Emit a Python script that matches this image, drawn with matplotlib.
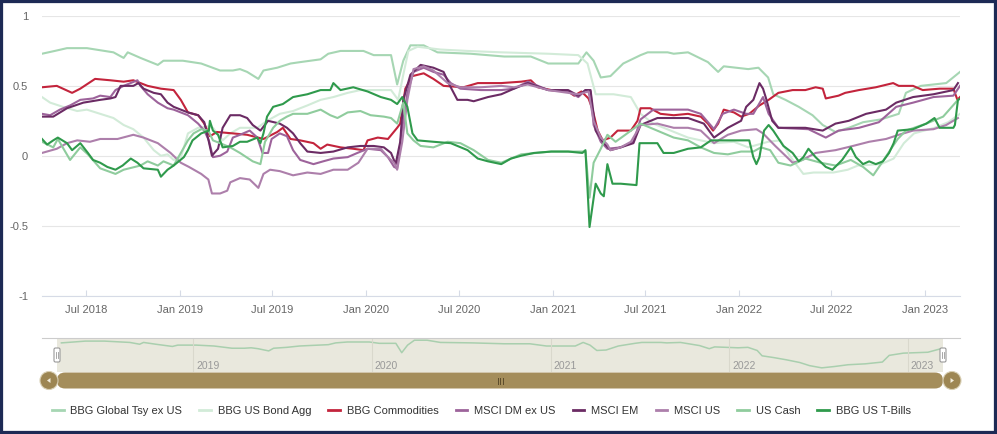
import matplotlib
matplotlib.use('Agg')
import matplotlib.pyplot as plt
import matplotlib.dates as mdates
import matplotlib.transforms as mtransforms
from matplotlib.lines import Line2D
from matplotlib.patches import FancyBboxPatch, Circle, Rectangle, Polygon
from matplotlib.ticker import FuncFormatter
import pandas as pd

plt.rcParams['font.family'] = ['Liberation Sans', 'DejaVu Sans']
plt.rcParams['axes.unicode_minus'] = False

# ---- data (rolling correlations) ----
gtsy_dates = ['2018-04-06', '2018-05-01', '2018-05-25', '2018-07-03', '2018-08-24', '2018-09-13', '2018-09-21',
              '2018-10-16', '2018-11-19', '2018-11-30', '2019-01-07', '2019-02-12', '2019-03-21', '2019-04-15',
              '2019-04-29', '2019-05-13', '2019-06-04', '2019-06-14', '2019-07-11', '2019-08-06', '2019-08-25',
              '2019-10-04', '2019-10-19', '2019-11-12', '2019-12-27', '2020-01-16', '2020-02-19', '2020-03-02',
              '2020-03-14', '2020-03-28', '2020-04-23', '2020-05-20', '2020-07-24', '2020-09-28', '2020-11-19',
              '2020-12-23', '2021-02-20', '2021-03-08', '2021-03-22', '2021-04-05', '2021-04-24', '2021-05-19',
              '2021-06-22', '2021-07-06', '2021-08-14', '2021-08-26', '2021-09-23', '2021-11-01', '2021-11-21',
              '2021-12-02', '2022-01-19', '2022-02-08', '2022-02-27', '2022-03-09', '2022-04-02', '2022-04-28',
              '2022-05-25', '2022-06-14', '2022-07-09', '2022-08-04', '2022-09-01', '2022-10-06', '2022-11-10',
              '2022-11-24', '2022-12-23', '2023-02-11', '2023-03-10']
gtsy_vals = [0.73, 0.75, 0.77, 0.77, 0.74, 0.70, 0.74, 0.70, 0.65, 0.68, 0.68, 0.66, 0.61, 0.61,
             0.62, 0.60, 0.55, 0.61, 0.63, 0.66, 0.67, 0.69, 0.73, 0.75, 0.75, 0.72, 0.72, 0.51,
             0.68, 0.79, 0.79, 0.74, 0.73, 0.71, 0.71, 0.66, 0.66, 0.74, 0.68, 0.56, 0.57, 0.66,
             0.72, 0.74, 0.74, 0.73, 0.74, 0.67, 0.60, 0.64, 0.62, 0.63, 0.56, 0.44, 0.40, 0.35,
             0.29, 0.22, 0.17, 0.20, 0.24, 0.26, 0.30, 0.45, 0.50, 0.52, 0.60]

agg_dates = ['2018-04-06', '2018-04-22', '2018-05-17', '2018-06-14', '2018-07-03', '2018-07-29', '2018-08-24',
             '2018-09-13', '2018-10-02', '2018-10-22', '2018-11-11', '2018-11-25', '2018-12-08', '2018-12-20',
             '2019-01-03', '2019-01-09', '2019-01-17', '2019-02-06', '2019-02-26', '2019-03-07', '2019-03-26',
             '2019-04-10', '2019-04-29', '2019-06-02', '2019-06-21', '2019-07-16', '2019-08-11', '2019-09-08',
             '2019-10-04', '2019-10-29', '2019-11-26', '2019-12-21', '2020-02-19', '2020-03-04', '2020-03-14',
             '2020-03-24', '2020-04-11', '2020-05-26', '2020-07-18', '2020-09-22', '2020-12-23', '2021-02-20',
             '2021-03-10', '2021-03-26', '2021-04-30', '2021-06-03', '2021-06-22', '2021-07-17', '2021-08-20',
             '2021-09-23', '2021-10-18', '2021-11-13', '2021-12-22', '2022-01-19', '2022-02-27', '2022-03-23',
             '2022-04-12', '2022-05-07', '2022-05-27', '2022-07-05', '2022-08-02', '2022-08-22', '2022-10-06',
             '2022-10-31', '2022-11-20', '2022-12-10', '2023-01-19', '2023-02-15', '2023-03-10']
agg_vals = [0.42, 0.38, 0.35, 0.32, 0.33, 0.30, 0.27, 0.22, 0.19, 0.13, 0.04, 0.00, 0.01, -0.03,
            -0.01, 0.06, 0.16, 0.20, 0.21, 0.20, 0.11, 0.16, 0.20, 0.20, 0.25, 0.30, 0.32, 0.36,
            0.40, 0.42, 0.45, 0.47, 0.47, 0.40, 0.58, 0.75, 0.78, 0.76, 0.75, 0.74, 0.73, 0.72,
            0.66, 0.44, 0.44, 0.42, 0.30, 0.23, 0.18, 0.13, 0.11, 0.09, 0.10, 0.06, 0.10, 0.11,
            -0.01, -0.13, -0.12, -0.12, -0.10, -0.07, -0.06, -0.02, 0.09, 0.16, 0.20, 0.24, 0.30]

cmd_dates = ['2018-04-06', '2018-05-05', '2018-06-04', '2018-06-20', '2018-07-19', '2018-08-18', '2018-09-13',
             '2018-10-02', '2018-10-30', '2018-11-25', '2018-12-20', '2019-01-03', '2019-01-17', '2019-02-06',
             '2019-02-18', '2019-03-01', '2019-03-15', '2019-04-15', '2019-05-13', '2019-06-14', '2019-07-11',
             '2019-07-22', '2019-08-06', '2019-08-25', '2019-09-20', '2019-10-04', '2019-10-17', '2019-11-12',
             '2019-12-07', '2019-12-27', '2020-01-04', '2020-01-24', '2020-02-13', '2020-03-02', '2020-03-08',
             '2020-03-18', '2020-04-01', '2020-04-23', '2020-05-12', '2020-06-01', '2020-07-10', '2020-08-07',
             '2020-09-22', '2020-10-31', '2020-11-19', '2020-12-03', '2020-12-29', '2021-01-31', '2021-02-12',
             '2021-02-26', '2021-03-12', '2021-03-20', '2021-03-30', '2021-04-09', '2021-04-24', '2021-05-08',
             '2021-06-03', '2021-06-16', '2021-06-22', '2021-07-11', '2021-07-31', '2021-08-26', '2021-09-23',
             '2021-10-18', '2021-11-01', '2021-11-11', '2021-11-21', '2021-12-02', '2021-12-22', '2022-01-05',
             '2022-01-21', '2022-02-10', '2022-02-28', '2022-03-19', '2022-04-16', '2022-05-11', '2022-05-31',
             '2022-06-14', '2022-06-20', '2022-07-15', '2022-07-28', '2022-08-24', '2022-09-26', '2022-10-30',
             '2022-11-10', '2022-12-08', '2022-12-27', '2023-01-29', '2023-02-25', '2023-03-05', '2023-03-10']
cmd_vals = [0.49, 0.50, 0.45, 0.48, 0.55, 0.54, 0.53, 0.54, 0.50, 0.48, 0.47, 0.40, 0.31, 0.29,
            0.23, 0.14, 0.17, 0.16, 0.15, 0.12, 0.17, 0.20, 0.12, 0.11, 0.09, 0.05, 0.08, 0.06,
            0.05, 0.04, 0.11, 0.13, 0.12, 0.20, 0.23, 0.48, 0.57, 0.59, 0.55, 0.50, 0.49, 0.52,
            0.52, 0.53, 0.54, 0.49, 0.47, 0.46, 0.43, 0.46, 0.41, 0.33, 0.18, 0.11, 0.13, 0.18,
            0.18, 0.25, 0.34, 0.34, 0.30, 0.29, 0.30, 0.28, 0.23, 0.18, 0.23, 0.33, 0.31, 0.28,
            0.30, 0.36, 0.40, 0.45, 0.47, 0.47, 0.49, 0.48, 0.41, 0.43, 0.45, 0.47, 0.49, 0.52,
            0.50, 0.50, 0.47, 0.48, 0.48, 0.40, 0.42]

dm_dates = ['2018-04-06', '2018-04-22', '2018-05-11', '2018-05-31', '2018-06-20', '2018-07-15', '2018-07-29',
            '2018-08-18', '2018-08-28', '2018-09-13', '2018-10-10', '2018-10-16', '2018-10-30', '2018-11-19',
            '2018-12-08', '2018-12-20', '2019-01-17', '2019-02-06', '2019-02-18', '2019-02-27', '2019-03-07',
            '2019-03-21', '2019-04-04', '2019-04-15', '2019-04-29', '2019-05-18', '2019-06-02', '2019-06-12',
            '2019-06-23', '2019-06-30', '2019-07-16', '2019-07-30', '2019-08-11', '2019-08-25', '2019-09-20',
            '2019-10-09', '2019-10-29', '2019-11-26', '2019-12-15', '2020-01-04', '2020-01-30', '2020-02-13',
            '2020-02-25', '2020-03-02', '2020-03-12', '2020-03-22', '2020-04-03', '2020-04-23', '2020-05-12',
            '2020-06-01', '2020-06-15', '2020-07-04', '2020-08-13', '2020-09-22', '2020-10-17', '2020-11-13',
            '2020-12-03', '2020-12-23', '2021-01-31', '2021-02-20', '2021-03-06', '2021-03-16', '2021-03-22',
            '2021-04-05', '2021-04-18', '2021-05-14', '2021-06-08', '2021-06-22', '2021-07-17', '2021-09-23',
            '2021-10-18', '2021-11-13', '2021-11-30', '2021-12-22', '2022-01-15', '2022-01-29', '2022-02-17',
            '2022-02-28', '2022-03-19', '2022-05-17', '2022-06-20', '2022-07-15', '2022-08-24', '2022-10-02',
            '2022-11-05', '2022-12-08', '2023-01-17', '2023-02-25', '2023-03-10']
dm_vals = [0.30, 0.29, 0.33, 0.36, 0.40, 0.41, 0.43, 0.42, 0.47, 0.50, 0.54, 0.50, 0.44, 0.38,
           0.34, 0.33, 0.29, 0.23, 0.18, 0.11, -0.01, 0.00, 0.03, 0.13, 0.15, 0.18, 0.13, 0.02,
           0.02, 0.12, 0.16, 0.14, 0.04, -0.03, -0.06, -0.04, -0.02, -0.01, 0.02, 0.05, 0.04, -0.01,
           -0.08, -0.09, 0.20, 0.45, 0.60, 0.63, 0.60, 0.58, 0.52, 0.48, 0.47, 0.47, 0.48, 0.53,
           0.50, 0.47, 0.46, 0.42, 0.47, 0.46, 0.22, 0.10, 0.05, 0.06, 0.10, 0.26, 0.33, 0.33,
           0.30, 0.19, 0.30, 0.33, 0.30, 0.30, 0.42, 0.30, 0.20, 0.19, 0.13, 0.18, 0.20, 0.24,
           0.35, 0.38, 0.42, 0.43, 0.50]

em_dates = ['2018-04-06', '2018-04-28', '2018-05-25', '2018-06-26', '2018-07-29', '2018-08-18', '2018-08-28',
            '2018-09-07', '2018-10-02', '2018-10-12', '2018-10-22', '2018-11-11', '2018-11-25', '2018-12-08',
            '2018-12-20', '2019-01-17', '2019-02-06', '2019-02-18', '2019-02-27', '2019-03-05', '2019-03-17',
            '2019-03-26', '2019-04-10', '2019-04-29', '2019-05-13', '2019-05-24', '2019-06-08', '2019-06-23',
            '2019-07-16', '2019-07-30', '2019-08-11', '2019-08-25', '2019-09-08', '2019-10-04', '2019-10-29',
            '2019-11-26', '2019-12-21', '2020-01-16', '2020-02-05', '2020-02-19', '2020-02-28', '2020-03-08',
            '2020-03-14', '2020-03-28', '2020-04-17', '2020-05-12', '2020-06-01', '2020-06-15', '2020-06-28',
            '2020-07-18', '2020-07-30', '2020-08-27', '2020-09-22', '2020-10-17', '2020-11-13', '2020-12-23',
            '2021-01-31', '2021-02-20', '2021-03-06', '2021-03-16', '2021-03-26', '2021-04-09', '2021-04-24',
            '2021-05-14', '2021-06-08', '2021-06-22', '2021-07-25', '2021-09-23', '2021-10-24', '2021-11-13',
            '2021-12-10', '2022-01-05', '2022-01-15', '2022-01-29', '2022-02-10', '2022-02-17', '2022-02-23',
            '2022-03-07', '2022-03-19', '2022-05-11', '2022-06-14', '2022-07-09', '2022-08-04', '2022-09-07',
            '2022-10-16', '2022-11-05', '2022-12-08', '2023-01-17', '2023-02-25', '2023-03-06']
em_vals = [0.28, 0.28, 0.34, 0.38, 0.40, 0.41, 0.42, 0.50, 0.50, 0.52, 0.48, 0.45, 0.44, 0.38,
           0.35, 0.31, 0.29, 0.24, 0.10, 0.00, 0.05, 0.20, 0.29, 0.29, 0.27, 0.22, 0.18, 0.25,
           0.23, 0.20, 0.16, 0.09, 0.03, 0.02, 0.03, 0.06, 0.07, 0.07, 0.06, 0.02, -0.06, 0.10,
           0.40, 0.58, 0.65, 0.63, 0.60, 0.49, 0.40, 0.40, 0.39, 0.42, 0.44, 0.48, 0.52, 0.47,
           0.47, 0.43, 0.47, 0.47, 0.18, 0.10, 0.04, 0.06, 0.09, 0.22, 0.27, 0.27, 0.23, 0.13,
           0.20, 0.25, 0.35, 0.40, 0.52, 0.48, 0.41, 0.25, 0.20, 0.20, 0.18, 0.23, 0.25, 0.30,
           0.33, 0.38, 0.42, 0.44, 0.47, 0.52]

us_dates = ['2018-04-06', '2018-05-05', '2018-05-25', '2018-06-14', '2018-07-09', '2018-07-29', '2018-09-01',
            '2018-10-02', '2018-10-22', '2018-11-19', '2018-12-14', '2019-01-03', '2019-01-19', '2019-02-12',
            '2019-02-26', '2019-03-05', '2019-03-21', '2019-04-04', '2019-04-10', '2019-04-29', '2019-05-18',
            '2019-06-04', '2019-06-14', '2019-06-27', '2019-07-16', '2019-08-11', '2019-09-08', '2019-10-04',
            '2019-10-29', '2019-11-26', '2019-12-17', '2020-01-04', '2020-01-30', '2020-02-13', '2020-02-25',
            '2020-03-02', '2020-03-12', '2020-03-22', '2020-04-03', '2020-04-23', '2020-05-12', '2020-06-09',
            '2020-07-04', '2020-08-13', '2020-09-22', '2020-10-17', '2020-11-13', '2020-12-03', '2020-12-23',
            '2021-01-31', '2021-02-20', '2021-03-12', '2021-03-22', '2021-04-05', '2021-04-18', '2021-04-24',
            '2021-05-14', '2021-06-03', '2021-06-16', '2021-06-22', '2021-07-25', '2021-08-26', '2021-09-23',
            '2021-10-18', '2021-11-13', '2021-12-10', '2022-01-05', '2022-02-04', '2022-02-17', '2022-03-13',
            '2022-04-02', '2022-04-16', '2022-05-05', '2022-05-31', '2022-07-09', '2022-08-12', '2022-09-13',
            '2022-10-16', '2022-11-10', '2022-12-08', '2023-01-17', '2023-02-11', '2023-03-06']
us_vals = [0.02, 0.05, 0.09, 0.11, 0.10, 0.12, 0.12, 0.15, 0.13, 0.09, 0.02, -0.05, -0.08, -0.13,
           -0.17, -0.27, -0.27, -0.25, -0.19, -0.16, -0.17, -0.23, -0.13, -0.10, -0.11, -0.14, -0.12, -0.13,
           -0.10, -0.10, -0.05, 0.05, 0.05, -0.01, -0.05, -0.10, 0.10, 0.40, 0.62, 0.64, 0.61, 0.52,
           0.49, 0.49, 0.50, 0.49, 0.51, 0.49, 0.47, 0.45, 0.44, 0.46, 0.25, 0.13, 0.08, 0.04,
           0.06, 0.10, 0.18, 0.22, 0.23, 0.20, 0.20, 0.18, 0.09, 0.15, 0.18, 0.19, 0.16, 0.07,
           0.00, -0.05, -0.03, 0.02, 0.04, 0.07, 0.10, 0.12, 0.15, 0.18, 0.19, 0.22, 0.27]

cash_dates = ['2018-04-06', '2018-04-28', '2018-05-07', '2018-05-31', '2018-06-20', '2018-07-05', '2018-07-29',
              '2018-08-28', '2018-09-13', '2018-10-16', '2018-10-30', '2018-11-19', '2018-11-30', '2018-12-20',
              '2019-01-03', '2019-01-17', '2019-01-28', '2019-02-12', '2019-02-26', '2019-03-07', '2019-03-21',
              '2019-04-10', '2019-04-29', '2019-05-24', '2019-06-08', '2019-06-17', '2019-07-03', '2019-07-16',
              '2019-07-30', '2019-08-11', '2019-09-08', '2019-10-04', '2019-10-23', '2019-11-06', '2019-11-26',
              '2019-12-21', '2020-01-10', '2020-02-05', '2020-02-19', '2020-03-02', '2020-03-14', '2020-03-22',
              '2020-04-03', '2020-04-17', '2020-05-12', '2020-06-09', '2020-07-04', '2020-07-30', '2020-08-27',
              '2020-09-22', '2020-10-31', '2020-12-29', '2021-02-16', '2021-03-06', '2021-03-14', '2021-03-22',
              '2021-04-05', '2021-04-18', '2021-05-04', '2021-05-23', '2021-06-22', '2021-07-31', '2021-08-26',
              '2021-09-23', '2021-10-18', '2021-11-13', '2021-12-10', '2022-01-05', '2022-01-29', '2022-02-13',
              '2022-03-03', '2022-03-19', '2022-04-12', '2022-05-11', '2022-06-10', '2022-07-09', '2022-08-08',
              '2022-09-01', '2022-09-21', '2022-10-06', '2022-10-26', '2022-11-08', '2022-11-24', '2023-01-03',
              '2023-02-05', '2023-03-06']
cash_vals = [0.10, 0.06, 0.12, -0.03, 0.06, 0.01, -0.09, -0.13, -0.10, -0.07, -0.04, -0.07, -0.04, -0.07,
             0.02, 0.11, 0.16, 0.19, 0.18, 0.11, 0.09, 0.06, 0.02, -0.04, -0.06, 0.10, 0.20, 0.25,
             0.28, 0.30, 0.30, 0.33, 0.29, 0.27, 0.31, 0.32, 0.29, 0.28, 0.27, 0.23, 0.38, 0.16,
             0.11, 0.07, 0.06, 0.10, 0.09, 0.04, -0.03, -0.05, 0.01, 0.03, 0.03, 0.03, -0.30, -0.05,
             0.05, 0.15, 0.10, 0.15, 0.23, 0.17, 0.13, 0.11, 0.06, 0.02, 0.01, 0.03, 0.03, 0.06,
             0.04, -0.05, -0.07, -0.02, -0.05, -0.07, -0.03, -0.08, -0.14, -0.06, 0.05, 0.12, 0.18, 0.23,
             0.28, 0.40]

tbill_dates = ['2018-04-06', '2018-04-16', '2018-04-28', '2018-05-07', '2018-05-25', '2018-06-04', '2018-06-20',
               '2018-07-05', '2018-07-15', '2018-07-29', '2018-08-12', '2018-08-28', '2018-09-11', '2018-09-27',
               '2018-10-10', '2018-10-22', '2018-11-19', '2018-11-25', '2018-12-08', '2018-12-20', '2019-01-09',
               '2019-01-17', '2019-01-26', '2019-02-12', '2019-02-27', '2019-03-01', '2019-03-07', '2019-03-17',
               '2019-03-26', '2019-04-15', '2019-04-29', '2019-05-13', '2019-06-02', '2019-06-08', '2019-06-14',
               '2019-06-21', '2019-07-03', '2019-07-22', '2019-08-11', '2019-09-08', '2019-10-04', '2019-10-23',
               '2019-10-29', '2019-11-12', '2019-12-07', '2020-01-04', '2020-01-30', '2020-02-19', '2020-03-02',
               '2020-03-12', '2020-03-22', '2020-04-01', '2020-04-11', '2020-05-12', '2020-06-15', '2020-07-18',
               '2020-08-07', '2020-08-27', '2020-09-22', '2020-10-11', '2020-10-31', '2020-11-25', '2020-12-29',
               '2021-01-31', '2021-02-28', '2021-03-06', '2021-03-14', '2021-03-26', '2021-04-05', '2021-04-11',
               '2021-04-18', '2021-04-28', '2021-05-14', '2021-06-14', '2021-06-20', '2021-07-25', '2021-08-06',
               '2021-08-26', '2021-09-23', '2021-10-18', '2021-11-07', '2022-01-21', '2022-01-29', '2022-02-04',
               '2022-02-10', '2022-02-19', '2022-02-28', '2022-03-09', '2022-03-29', '2022-04-16', '2022-04-28',
               '2022-05-07', '2022-05-17', '2022-05-31', '2022-06-20', '2022-07-03', '2022-07-22', '2022-08-08',
               '2022-08-18', '2022-09-01', '2022-09-13', '2022-09-26', '2022-10-10', '2022-10-22', '2022-10-31',
               '2022-11-08', '2022-12-08', '2023-01-03', '2023-01-19', '2023-01-29', '2023-02-25', '2023-02-28',
               '2023-03-06', '2023-03-12']
tbill_vals = [0.12, 0.08, 0.11, 0.13, 0.09, 0.04, 0.09, 0.02, -0.03, -0.05, -0.08, -0.10, -0.07, -0.02,
              -0.05, -0.09, -0.10, -0.15, -0.10, -0.07, -0.01, 0.04, 0.11, 0.16, 0.18, 0.25, 0.18, 0.15,
              0.06, 0.07, 0.10, 0.10, 0.13, 0.09, 0.16, 0.28, 0.35, 0.37, 0.42, 0.44, 0.47, 0.47,
              0.52, 0.47, 0.49, 0.46, 0.42, 0.40, 0.37, 0.42, 0.35, 0.16, 0.11, 0.10, 0.09, 0.04,
              -0.02, -0.04, -0.06, -0.02, 0.00, 0.02, 0.03, 0.03, 0.02, 0.04, -0.51, -0.20, -0.27, -0.29,
              -0.06, -0.20, -0.20, -0.21, 0.09, 0.09, 0.02, 0.02, 0.05, 0.06, 0.11, 0.11, -0.01, -0.06,
              -0.01, 0.18, 0.22, 0.18, 0.07, 0.02, -0.04, -0.01, 0.05, -0.01, -0.08, -0.10, -0.03, 0.06,
              -0.01, -0.06, -0.04, -0.06, -0.04, 0.02, 0.09, 0.18, 0.19, 0.23, 0.27, 0.20, 0.20, 0.22,
              0.40, 0.41]

series_names = ['BBG Global Tsy ex US', 'BBG US Bond Agg', 'BBG Commodities', 'MSCI DM ex US',
                'MSCI EM', 'MSCI US', 'US Cash', 'BBG US T-Bills']
series_dates = [gtsy_dates, agg_dates, cmd_dates, dm_dates, em_dates, us_dates, cash_dates, tbill_dates]
series_vals = [gtsy_vals, agg_vals, cmd_vals, dm_vals, em_vals, us_vals, cash_vals, tbill_vals]
series_colors = ['#a6d6b3', '#d2ebd8', '#c3243c', '#9d639b', '#6b2b64', '#ad7fab', '#8fcc9d', '#2f9a4c']

y_ticks = [-1, -0.5, 0, 0.5, 1]
nav_years = [2019, 2020, 2021, 2022, 2023]

# ---- figure ----
W, H = 997, 434
fig = plt.figure(figsize=(W / 100, H / 100), dpi=100)
fig.patch.set_facecolor('white')

def fx(px):
    return px / W

def fy(py):
    return 1 - py / H

ident = mtransforms.IdentityTransform()

# main chart
ax = fig.add_axes([fx(42), fy(295.5), fx(960) - fx(42), fy(16) - fy(295.5)])
for name, d, v, c in zip(series_names, series_dates, series_vals, series_colors):
    ax.plot(pd.to_datetime(d), v, color=c, lw=1.5, solid_joinstyle='round', label=name)

ax.set_xlim(pd.Timestamp('2018-04-06'), pd.Timestamp('2023-03-10'))
ax.set_ylim(-1, 1)
ax.set_yticks(y_ticks)
ax.yaxis.set_major_formatter(FuncFormatter(lambda v, p: ('%g' % v)))
ax.xaxis.set_major_locator(mdates.MonthLocator(bymonth=[1, 7]))
ax.xaxis.set_major_formatter(mdates.DateFormatter('%b %Y'))
ax.grid(axis='y', color='#e6e6e6', lw=0.8)
ax.set_axisbelow(True)
for s in ['top', 'right', 'left']:
    ax.spines[s].set_visible(False)
ax.spines['bottom'].set_color('#d6dbe6')
ax.spines['bottom'].set_linewidth(0.8)
ax.tick_params(axis='y', length=0, pad=10, labelsize=8, labelcolor='#666666')
ax.tick_params(axis='x', length=4, direction='in', color='#d6dbe6', pad=7, labelsize=8, labelcolor='#666666')

# navigator
nav = fig.add_axes([fx(57), fy(372), fx(943) - fx(57), fy(338) - fy(372)])
nav.set_facecolor('#e9e8dd')
nav.plot(pd.to_datetime(gtsy_dates), gtsy_vals, color='#a9cfae', lw=1.1)
nav.set_xlim(pd.Timestamp('2018-03-28'), pd.Timestamp('2023-03-14'))
rng = max(gtsy_vals) - min(gtsy_vals)
nav.set_ylim(min(gtsy_vals) - 0.15 * rng, max(gtsy_vals) + 0.08 * rng)
for s in nav.spines.values():
    s.set_visible(False)
nav.set_xticks([])
nav.set_yticks([])
lbl_tr = mtransforms.offset_copy(mtransforms.blended_transform_factory(nav.transData, nav.transAxes),
                                 fig=fig, x=3, y=-2, units='dots')
for yr in nav_years:
    d = pd.Timestamp('%d-01-01' % yr)
    nav.axvline(d, color='#d9d8cc', lw=0.8)
    nav.text(d, 0.08, str(yr), transform=lbl_tr, ha='left', va='bottom', fontsize=7.5, color='#999999')

fig.add_artist(Line2D([42, 960], [H - 338, H - 338], color='#cccccc', lw=0.8, transform=ident))

# navigator handles
for hx in [57, 943]:
    fig.add_artist(FancyBboxPatch((hx - 3, H - 362), 6, 14, boxstyle='round,pad=0,rounding_size=1.5',
                                  fc='white', ec='#999999', lw=0.8, transform=ident))
    fig.add_artist(Line2D([hx - 0.8, hx - 0.8], [H - 358, H - 352], color='#999999', lw=0.6, transform=ident))
    fig.add_artist(Line2D([hx + 0.8, hx + 0.8], [H - 358, H - 352], color='#999999', lw=0.6, transform=ident))

# scrollbar
gold = '#a48d5b'
fig.add_artist(FancyBboxPatch((57, H - 388.5), 886, 16, boxstyle='round,pad=0,rounding_size=8',
                              fc=gold, ec='none', transform=ident))
for cx, sgn in [(49, -1), (952, 1)]:
    fig.add_artist(Circle((cx, H - 380.5), 9, fc='#9d8653', ec='#d8cfb4', lw=0.8, transform=ident))
    fig.add_artist(Polygon([[cx + 2 * sgn, H - 380.5], [cx - 1.5 * sgn, H - 378], [cx - 1.5 * sgn, H - 383]],
                           closed=True, fc='#f2ecdc', ec='none', transform=ident))
for gx in [497.5, 500, 502.5]:
    fig.add_artist(Line2D([gx, gx], [H - 383.5, H - 377.5], color='#5b4b2b', lw=0.7, transform=ident))

# legend
handles = [Line2D([], [], color=c, lw=2) for c in series_colors]
leg = fig.legend(handles, series_names, loc='center left', bbox_to_anchor=(fx(52), fy(411)),
                 ncol=8, frameon=False, fontsize=8, handlelength=1.05, handletextpad=0.6,
                 columnspacing=1.55, borderpad=0, borderaxespad=0)
for t in leg.get_texts():
    t.set_color('#333333')

# outer frame
fig.add_artist(Rectangle((0, 0), 1, 1, transform=fig.transFigure, fill=False, ec='#1d2a55', lw=4.5))

fig.savefig('out.png', dpi=100)
